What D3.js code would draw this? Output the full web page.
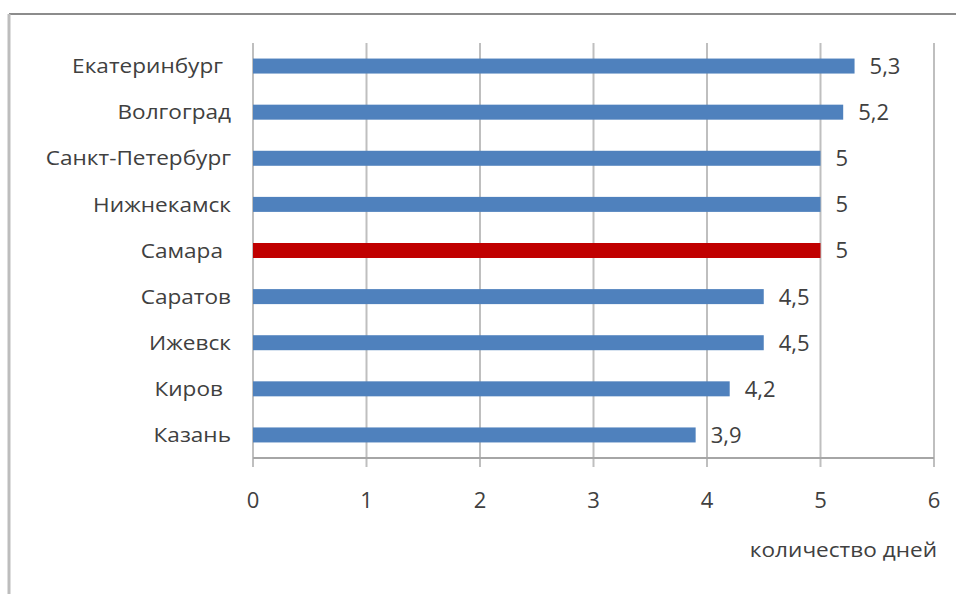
<!DOCTYPE html>
<html>
<head>
<meta charset="utf-8">
<script src="https://cdn.jsdelivr.net/npm/d3@7"></script>
<style>
  body { margin: 0; background: #fff; }
  svg text { font-family: "Open Sans", "Noto Sans", sans-serif; fill: #404040; }
</style>
</head>
<body>
<div id="chart"></div>
<script>
// cities, top to bottom
const cities = ["Екатеринбург", "Волгоград", "Санкт-Петербург", "Нижнекамск", "Самара",
                "Саратов", "Ижевск", "Киров", "Казань"];
const days = [5.3, 5.2, 5, 5, 5, 4.5, 4.5, 4.2, 3.9];
const labelPad = [8, 0, 0, 0, 8, 0, 0, 8, 0];   // some labels carry a trailing space in the original
const highlight = "Самара";
const xTicks = [0, 1, 2, 3, 4, 5, 6];
const axisTitle = "количество дней";

const W = 956, H = 594;
let m = { left: 253, right: 22, top: 43, bottom: 136 };
let width = W - m.left - m.right,
    height = H - m.top - m.bottom;
const stretch = 1.13;   // the source text is a bit wider than Open Sans

let svg = d3.select("#chart").append("svg")
    .attr("width", W)
    .attr("height", H);

// outer frame (only top and left edges visible in the crop)
svg.append("line").attr("x1", 9).attr("x2", W).attr("y1", 14).attr("y2", 14)
    .attr("stroke", "#8c8c8c").attr("stroke-width", 2);
svg.append("line").attr("x1", 9).attr("x2", 9).attr("y1", 14).attr("y2", H)
    .attr("stroke", "#bdbdbd").attr("stroke-width", 3);

let vis = svg.append("g")
    .attr("transform", "translate(" + m.left + "," + m.top + ")");

let x = d3.scaleLinear().domain([0, 6]).range([0, width]);
let y = d3.scaleBand().domain(cities).range([0, height]);
const barH = 15;

// vertical gridlines
vis.selectAll(".grid").data(xTicks).enter().append("line")
    .attr("class", "grid")
    .attr("x1", d => x(d)).attr("x2", d => x(d))
    .attr("y1", 0).attr("y2", height + 9)
    .attr("stroke", "#bfbfbf")
    .attr("stroke-width", 2);

// bottom axis line
vis.append("line")
    .attr("x1", 0).attr("x2", width)
    .attr("y1", height).attr("y2", height)
    .attr("stroke", "#a6a6a6").attr("stroke-width", 2);

// tick labels
vis.selectAll(".tick-label").data(xTicks).enter().append("text")
    .attr("class", "tick-label")
    .attr("x", d => x(d))
    .attr("y", height + 50)
    .attr("text-anchor", "middle")
    .style("font-size", "22px")
    .text(d => d);

// axis title
vis.append("text")
    .attr("transform", "translate(" + (width + 3) + "," + (height + 99) + ") scale(" + stretch + ",1)")
    .attr("text-anchor", "end")
    .style("font-size", "20px")
    .text(axisTitle);

// bars
vis.selectAll(".bar").data(cities).enter().append("rect")
    .attr("class", "bar")
    .attr("x", x(0))
    .attr("y", d => y(d) + y.bandwidth() / 2 - barH / 2)
    .attr("width", (d, i) => x(days[i]) - x(0))
    .attr("height", barH)
    .attr("fill", d => d === highlight ? "#c00000" : "#4f81bd");

// value labels
vis.selectAll(".val").data(cities).enter().append("text")
    .attr("class", "val")
    .attr("x", (d, i) => x(days[i]) + 15)
    .attr("y", d => y(d) + y.bandwidth() / 2)
    .attr("dy", "0.36em")
    .style("font-size", "22px")
    .text((d, i) => String(days[i]).replace(".", ","));

// category labels
vis.selectAll(".cat").data(cities).enter().append("text")
    .attr("class", "cat")
    .attr("transform", (d, i) => "translate(" + (-22 - labelPad[i]) + "," + (y(d) + y.bandwidth() / 2) + ") scale(" + stretch + ",1)")
    .attr("dy", "0.36em")
    .attr("text-anchor", "end")
    .style("font-size", "20px")
    .text(d => d);
</script>
</body>
</html>
